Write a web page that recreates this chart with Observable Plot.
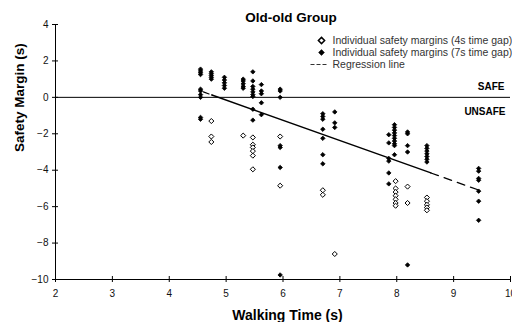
<!DOCTYPE html>
<html>
<head>
<meta charset="utf-8">
<script src="https://cdn.jsdelivr.net/npm/d3@7"></script>
<script src="https://cdn.jsdelivr.net/npm/@observablehq/plot@0.6"></script>
<style>
  html, body { margin: 0; padding: 0; background: #fff; }
  #chart { width: 512px; height: 322px; overflow: hidden; }
</style>
</head>
<body>
<div id="chart"></div>
<script>
// ---- data ----
const title = "Old-old Group";
const xLabel = "Walking Time (s)";
const yLabel = "Safety Margin (s)";
const xDomain = [2, 10];
const yDomain = [-10, 4];
const xTicks = [2, 3, 4, 5, 6, 7, 8, 9, 10];
const yTicks = [4, 2, 0, -2, -4, -6, -8, -10];
const safeLine = [0];
const zoneLabels = ["SAFE", "UNSAFE"];
const legendLabels = [
  "Individual safety margins (4s time gap)",
  "Individual safety margins (7s time gap)",
  "Regression line"
];

// 7s time gap (filled diamonds): [walking time, list of margins]
const gap7Columns = [
  [4.55, [1.55, 1.45, 1.35, 1.25, 0.45, 0.35, 0.15, 0.0, -1.1, -1.2]],
  [4.74, [1.4, 1.3, 1.2, 1.1, 1.0]],
  [4.97, [1.1, 0.95, 0.8, 0.65, 0.5]],
  [5.30, [1.0, 0.9, 0.75, 0.6, 0.5]],
  [5.47, [1.4, 0.9, 0.6, 0.45, 0.3, 0.15, 0.05, -0.65, -1.25]],
  [5.62, [0.7, 0.35, 0.2, -0.3, -0.95]],
  [5.95, [0.45, 0.35, 0.0, -2.65, -2.75, -3.85, -9.75]],
  [6.70, [-0.9, -1.05, -1.2, -1.75, -2.25, -3.15, -3.65]],
  [6.91, [-0.8, -1.4, -1.65]],
  [7.86, [-2.05, -2.5, -3.35, -3.5, -4.15, -4.75]],
  [7.96, [-1.5, -1.65, -1.8, -1.95, -2.1, -2.25, -2.4, -2.55, -2.65, -3.15]],
  [8.19, [-1.9, -2.0, -2.65, -3.0, -9.2]],
  [8.53, [-2.65, -2.8, -2.95, -3.1, -3.25, -3.4, -3.55]],
  [9.44, [-3.9, -4.05, -4.45, -4.55, -5.15, -5.7, -6.75]]
];

// 4s time gap (open diamonds)
const gap4Columns = [
  [4.74, [-1.3, -2.15, -2.45]],
  [5.30, [-2.1]],
  [5.47, [-2.2, -2.6, -2.75, -2.95, -3.2, -3.95]],
  [5.95, [-2.15, -4.85]],
  [6.70, [-5.1, -5.35]],
  [6.91, [-8.6]],
  [7.98, [-4.6, -5.0, -5.2, -5.4, -5.6, -5.8, -5.95]],
  [8.19, [-4.9, -5.8]],
  [8.53, [-5.5, -5.7, -5.9, -6.05, -6.2]]
];

// regression line, read points (dashed ends, solid middle)
const regX = [4.6, 4.75, 8.6, 9.45];
const regY = [0.3, 0.13, -4.15, -5.1];

// ---- build tables ----
const flatten = cols => cols.flatMap(([x, ys]) => ys.map(y => ({x, y})));
const gap7 = flatten(gap7Columns);
const gap4 = flatten(gap4Columns);
const reg = regX.map((x, i) => ({x, y: regY[i]}));
const regSolid = reg.slice(1, 3);
const regDashA = reg.slice(0, 2);
const regDashB = reg.slice(2, 4);

const dashSymbol = {
  draw(ctx, size) { ctx.moveTo(-8, 0); ctx.lineTo(8, 0); }
};

const font = "'Liberation Sans', Arial, Helvetica, sans-serif";

const chart = Plot.plot({
  width: 512,
  height: 322,
  marginLeft: 55,
  marginRight: 2,
  marginTop: 24,
  marginBottom: 43,
  style: {fontFamily: font, fontSize: "10px", color: "#111", background: "#fff", overflow: "visible"},
  x: {domain: xDomain},
  y: {domain: yDomain},
  marks: [
    Plot.ruleY(safeLine, {stroke: "#000", strokeWidth: 1}),
    Plot.line(regSolid, {x: "x", y: "y", stroke: "#000", strokeWidth: 1.4}),
    Plot.line(regDashA, {x: "x", y: "y", stroke: "#000", strokeWidth: 1.2, strokeDasharray: "6,3"}),
    Plot.line(regDashB, {x: "x", y: "y", stroke: "#000", strokeWidth: 1.2, strokeDasharray: "8,6"}),
    Plot.dot(gap4, {x: "x", y: "y", symbol: "diamond2", r: 2.3, stroke: "#000", strokeWidth: 1, fill: "#fff"}),
    Plot.dot(gap7, {x: "x", y: "y", symbol: "diamond2", r: 2.0, fill: "#000", stroke: "#000", strokeWidth: 0.8}),
    Plot.ruleX([xDomain[0]], {stroke: "#000", strokeWidth: 1}),
    Plot.ruleY([yDomain[0]], {stroke: "#000", strokeWidth: 1}),
    Plot.axisX({ticks: xTicks, tickSize: 6, dy: -3, tickPadding: 7, label: null, fontSize: 10, stroke: "#000"}),
    Plot.axisY({ticks: yTicks, tickSize: 6, dx: 3, tickPadding: 4, label: null, fontSize: 10, stroke: "#000"}),
    // title
    Plot.text([title], {frameAnchor: "top", dx: 8, dy: -7, fontSize: 13.5, fontWeight: "bold", fill: "#000", lineAnchor: "middle"}),
    // axis labels
    Plot.text([xLabel], {frameAnchor: "bottom", dx: 4.5, dy: 36, fontSize: 14, fontWeight: "bold", fill: "#000", lineAnchor: "middle"}),
    Plot.text([yLabel], {frameAnchor: "left", dx: -36, dy: 0, rotate: -90, fontSize: 13.5, fontWeight: "bold", fill: "#000", lineAnchor: "middle"}),
    // zone labels
    Plot.text([zoneLabels[0]], {frameAnchor: "top-right", dx: -6, dy: 62, textAnchor: "end", lineAnchor: "middle", fontSize: 10, fontWeight: "bold", fill: "#000"}),
    Plot.text([zoneLabels[1]], {frameAnchor: "top-right", dx: -5, dy: 87, textAnchor: "end", lineAnchor: "middle", fontSize: 10, fontWeight: "bold", fill: "#000"}),
    // legend
    Plot.dot([0], {frameAnchor: "top-left", dx: 266, dy: 16, symbol: "diamond2", r: 2.8, stroke: "#000", fill: "#fff"}),
    Plot.dot([0], {frameAnchor: "top-left", dx: 266, dy: 28, symbol: "diamond2", r: 2.6, fill: "#000", stroke: "#000", strokeWidth: 0.6}),
    Plot.dot([0], {frameAnchor: "top-left", dx: 263, dy: 40, symbol: dashSymbol, stroke: "#333", strokeWidth: 1, strokeDasharray: "4,2"}),
    Plot.text([legendLabels[0]], {frameAnchor: "top-left", dx: 277, dy: 16, textAnchor: "start", lineAnchor: "middle", fontSize: 10.5, fill: "#333"}),
    Plot.text([legendLabels[1]], {frameAnchor: "top-left", dx: 277, dy: 28, textAnchor: "start", lineAnchor: "middle", fontSize: 10.5, fill: "#333"}),
    Plot.text([legendLabels[2]], {frameAnchor: "top-left", dx: 277, dy: 40, textAnchor: "start", lineAnchor: "middle", fontSize: 10.5, fill: "#333"})
  ]
});

document.getElementById("chart").appendChild(chart);
</script>
</body>
</html>
